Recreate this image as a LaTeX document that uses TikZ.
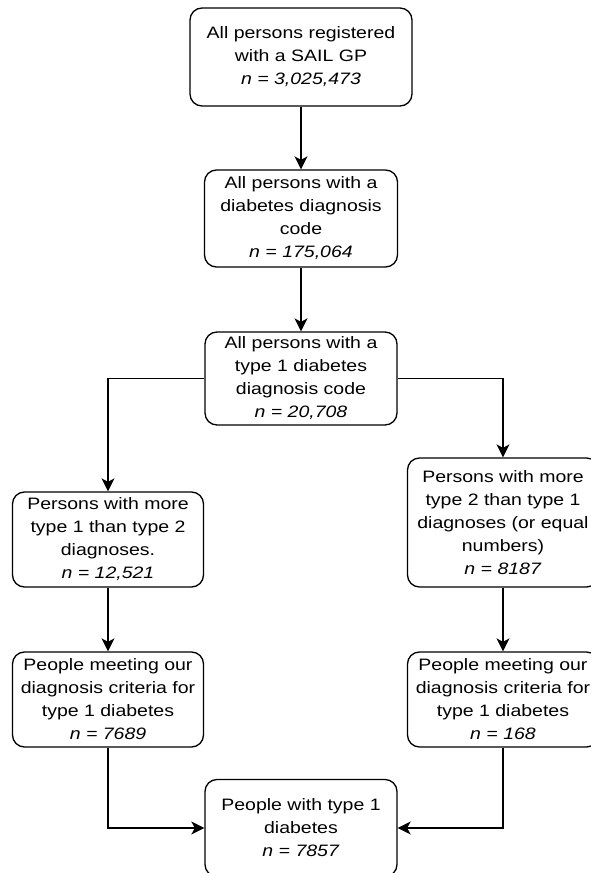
\documentclass[tikz,border=0pt]{standalone}
\usepackage{fontspec}
\setmainfont{Liberation Sans}[FakeStretch=1.18]
\usetikzlibrary{arrows.meta}

\begin{document}
\begin{tikzpicture}[
  flowbox/.style={draw,rectangle,rounded corners=0.24cm,line width=0.75pt,align=center,inner sep=1pt,
    minimum width=3.82cm,minimum height=1.9cm,font=\fontsize{9.4}{13.1}\selectfont},
  flowarrow/.style={-{Stealth[length=0.26cm,width=0.26cm,inset=0.07cm]},line width=0.75pt}
]
\useasboundingbox (0,0) rectangle (11.8,-17.46);

% Main column
\node[flowbox,minimum width=4.44cm,minimum height=1.96cm] (allgp) at (6.02,-1.14) {All persons registered\\with a SAIL GP\\\textit{n = 3,025,473}};
\node[flowbox,minimum width=3.86cm,minimum height=1.94cm] (diab) at (6.02,-4.37) {All persons with a\\diabetes diagnosis\\code\\\textit{n = 175,064}};
\node[flowbox,minimum width=3.84cm,minimum height=1.86cm] (typeone) at (6.02,-7.57) {All persons with a\\type 1 diabetes\\diagnosis code\\\textit{n = 20,708}};

% Two branches
\node[flowbox] (more1) at (2.16,-10.79) {Persons with more\\type 1 than type 2\\diagnoses.\\\textit{n = 12,521}};
\node[flowbox,minimum height=2.58cm] (more2) at (10.06,-10.45) {Persons with more\\type 2 than type 1\\diagnoses (or equal\\numbers)\\\textit{n = 8187}};
\node[flowbox] (crit1) at (2.16,-13.99) {People meeting our\\diagnosis criteria for\\type 1 diabetes\\\textit{n = 7689}};
\node[flowbox] (crit2) at (10.06,-13.99) {People meeting our\\diagnosis criteria for\\type 1 diabetes\\\textit{n = 168}};

% Final cohort
\node[flowbox,minimum width=3.84cm,minimum height=1.94cm] (final) at (6.02,-16.56) {People with type 1\\diabetes\\\textit{n = 7857}};

% Connection lines
\draw[flowarrow] (allgp) -- (diab);
\draw[flowarrow] (diab) -- (typeone);
\draw[flowarrow] (typeone.west) -| (more1.north);
\draw[flowarrow] (typeone.east) -| (more2.north);
\draw[flowarrow] (more1) -- (crit1);
\draw[flowarrow] (more2) -- (crit2);
\draw[flowarrow] (crit1.south) |- (final.west);
\draw[flowarrow] (crit2.south) |- (final.east);
\end{tikzpicture}
\end{document}
